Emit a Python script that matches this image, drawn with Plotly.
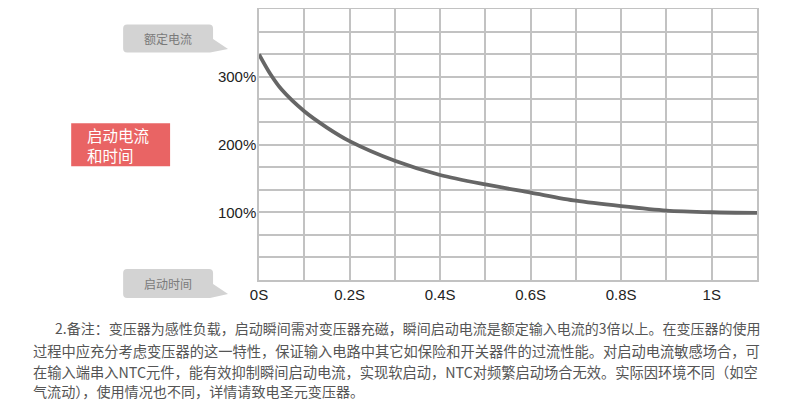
import plotly.graph_objects as go

# Data
time_s = [0, 0.025, 0.05, 0.1, 0.15, 0.2, 0.3, 0.4, 0.5, 0.6, 0.7, 0.8, 0.9, 1.0, 1.1]
current_pct = [333, 304, 281, 249, 225, 205, 176, 155, 141, 129, 117, 109, 102.5, 100, 99]

x_tick_vals = [0, 0.2, 0.4, 0.6, 0.8, 1.0]
x_tick_text = ["0S", "0.2S", "0.4S", "0.6S", "0.8S", "1S"]
y_tick_vals = [100, 200, 300]
y_tick_text = ["100%", "200%", "300%"]

note_lines = [
    "2.备注：变压器为感性负载，启动瞬间需对变压器充磁，瞬间启动电流是额定输入电流的3倍以上。在变压器的使用",
    "过程中应充分考虑变压器的这一特性，保证输入电路中其它如保险和开关器件的过流性能。对启动电流敏感场合，可",
    "在输入端串入NTC元件，能有效抑制瞬间启动电流，实现软启动，NTC对频繁启动场合无效。实际因环境不同（如空",
    "气流动），使用情况也不同，详情请致电圣元变压器。",
]

# page body has an 8px margin, so the figure is drawn 8px in from the window corner
OFF = 8
W, H = 790 - OFF, 406 - OFF
L, R, T, B = 259 - OFF, 32.5, 0.5, 126
PW, PH = W - L - R, H - T - B
GRID = "#c2c2c2"
CJK = "Noto Sans CJK SC"


def px(x):
    # window pixel x -> paper x
    return (x - OFF - L) / PW


def py(y):
    # window pixel y -> paper y
    return (H - B - (y - OFF)) / PH


def callout_path(x0, y0, x1, y1, tip, r=4):
    # rounded rect with a small pointer on the right side
    tx, ty = tip
    pts = [
        f"M{px(x0 + r)},{py(y0)}",
        f"L{px(x1 - r)},{py(y0)}",
        f"Q{px(x1)},{py(y0)} {px(x1)},{py(y0 + r)}",
        f"L{px(x1)},{py(ty - 10)}",
        f"L{px(tx)},{py(ty)}",
        f"L{px(x1 - 3)},{py(y1)}",
        f"L{px(x0 + r)},{py(y1)}",
        f"Q{px(x0)},{py(y1)} {px(x0)},{py(y1 - r)}",
        f"L{px(x0)},{py(y0 + r)}",
        f"Q{px(x0)},{py(y0)} {px(x0 + r)},{py(y0)}",
        "Z",
    ]
    return " ".join(pts)


fig = go.Figure()
fig.add_trace(go.Scatter(
    x=time_s, y=current_pct, mode="lines",
    line=dict(color="#666666", width=3.8, shape="spline", smoothing=0.8),
    hoverinfo="skip",
))

axis_common = dict(
    showgrid=True, gridcolor=GRID, gridwidth=1.5,
    showline=True, linecolor=GRID, linewidth=1.5, mirror=True,
    zeroline=False, ticks="",
    tickfont=dict(family="Liberation Sans", size=15, color="#222222"),
    fixedrange=True,
)
fig.update_xaxes(range=[0, 1.1], tickvals=x_tick_vals, ticktext=x_tick_text,
                 minor=dict(dtick=0.1, showgrid=True, gridcolor=GRID, gridwidth=1.5),
                 **axis_common)
fig.update_yaxes(range=[0, 400], tickvals=y_tick_vals, ticktext=y_tick_text,
                 minor=dict(tick0=0, dtick=100 / 3, showgrid=True, gridcolor=GRID, gridwidth=1.5),
                 ticklabelstandoff=-2, **axis_common)

shapes = [
    dict(type="path", xref="paper", yref="paper",
         path=callout_path(123, 24, 213, 52, (228, 48.5)),
         fillcolor="#d3d3d3", line=dict(width=0), layer="above"),
    dict(type="path", xref="paper", yref="paper",
         path=callout_path(123, 269, 213, 298, (228, 294)),
         fillcolor="#d3d3d3", line=dict(width=0), layer="above"),
    dict(type="rect", xref="paper", yref="paper",
         x0=px(71), x1=px(170), y0=py(166), y1=py(123),
         fillcolor="#e96464", line=dict(width=0), layer="above"),
]

annotations = [
    dict(text="额定电流", x=px(168), y=py(38), xref="paper", yref="paper",
         xanchor="center", yanchor="middle", showarrow=False,
         font=dict(family=CJK, size=12, color="#7a7a7a")),
    dict(text="启动时间", x=px(168), y=py(283.5), xref="paper", yref="paper",
         xanchor="center", yanchor="middle", showarrow=False,
         font=dict(family=CJK, size=12, color="#7a7a7a")),
    dict(text="启动电流<br>和时间", x=px(85), y=py(145), xref="paper", yref="paper",
         xanchor="left", yanchor="middle", align="left", showarrow=False,
         font=dict(family=CJK, size=15.5, color="white")),
]
note_y = [328.3, 350.7, 371.7, 391.7]
note_x = [53, 31, 31, 31]
note_size = [14.0, 14.26, 14.26, 14.1]  # lines 1-3 are justified to the same right edge
for line, x, y, s in zip(note_lines, note_x, note_y, note_size):
    annotations.append(dict(
        text=line, x=px(x), y=py(y), xref="paper", yref="paper",
        xanchor="left", yanchor="middle", showarrow=False,
        font=dict(family=CJK, size=s, color="#555555"),
    ))

fig.update_layout(
    width=W, height=H,
    margin=dict(l=L, r=R, t=T, b=B, pad=0),
    paper_bgcolor="white", plot_bgcolor="white",
    showlegend=False,
    shapes=shapes, annotations=annotations,
)

fig.write_html("out.html")
